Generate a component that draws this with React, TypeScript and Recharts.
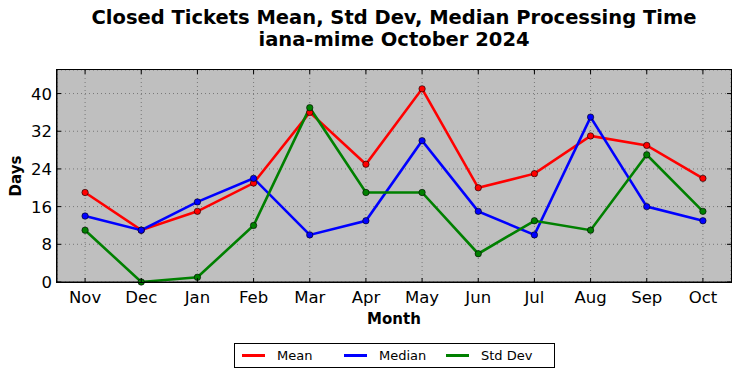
import {
  CartesianGrid,
  Line,
  LineChart,
  XAxis,
  YAxis,
} from "recharts";

const months = ["Nov", "Dec", "Jan", "Feb", "Mar", "Apr", "May", "Jun", "Jul", "Aug", "Sep", "Oct"];
const meanDays = [19, 11, 15, 21, 36, 25, 41, 20, 23, 31, 29, 22];
const medianDays = [14, 11, 17, 22, 10, 13, 30, 15, 10, 35, 16, 13];
const stdDevDays = [11, 0, 1, 12, 37, 19, 19, 6, 13, 11, 27, 15];
const yTicks = [0, 8, 16, 24, 32, 40];

const series = [
  { key: "mean", name: "Mean", color: "#ff0000" },
  { key: "median", name: "Median", color: "#0000ff" },
  { key: "std", name: "Std Dev", color: "#008000" },
];

const data = months.map((month, i) => ({
  month,
  mean: meanDays[i],
  median: medianDays[i],
  std: stdDevDays[i],
}));

const FONT = "'DejaVu Sans', sans-serif";
const PLOT_TOP = 70;
const PLOT_BOTTOM = 282;
const PLOT_LEFT = 57;
const PLOT_RIGHT = 731;
const HALF_STEP = (PLOT_RIGHT - PLOT_LEFT) / months.length / 2;

function MonthTick({ x, payload }: any) {
  return (
    <g>
      <line x1={x} x2={x} y1={PLOT_BOTTOM} y2={PLOT_BOTTOM - 4} stroke="#000" />
      <line x1={x} x2={x} y1={PLOT_TOP} y2={PLOT_TOP + 4} stroke="#000" />
      <text x={x} y={PLOT_BOTTOM + 21} textAnchor="middle" fontSize={16.5} fill="#000" fontFamily={FONT}>
        {payload.value}
      </text>
    </g>
  );
}

function DaysTick({ y, payload }: any) {
  return (
    <g>
      <line x1={PLOT_LEFT} x2={PLOT_LEFT + 4} y1={y} y2={y} stroke="#000" />
      <line x1={PLOT_RIGHT} x2={PLOT_RIGHT - 4} y1={y} y2={y} stroke="#000" />
      <text x={PLOT_LEFT - 5} y={y + 6} textAnchor="end" fontSize={16.5} fill="#000" fontFamily={FONT}>
        {payload.value}
      </text>
    </g>
  );
}

function LegendBox() {
  return (
    <div
      style={{
        position: "absolute",
        left: 234,
        top: 343,
        border: "1px solid #000",
        background: "#fff",
        width: 319,
        height: 23,
        display: "flex",
        alignItems: "center",
        fontSize: 13,
        color: "#000",
      }}
    >
      {series.map((s, i) => (
        <div key={s.key} style={{ display: "flex", alignItems: "center", marginLeft: i === 0 ? 7 : 0, width: i === 2 ? "auto" : 102 }}>
          <div style={{ width: 23, height: 3, background: s.color, marginRight: 12 }} />
          <span>{s.name}</span>
        </div>
      ))}
    </div>
  );
}

export default function App() {
  return (
    <div style={{ position: "absolute", left: 0, top: 0, width: 741, height: 378, background: "#fff", fontFamily: FONT }}>
      <div
        style={{
          position: "absolute",
          left: 0,
          width: 788,
          top: 7,
          textAlign: "center",
          fontWeight: "bold",
          fontSize: 19.5,
          lineHeight: "22px",
          color: "#000",
        }}
      >
        <div>Closed Tickets Mean, Std Dev, Median Processing Time</div>
        <div>iana-mime October 2024</div>
      </div>
      <LineChart
        width={741}
        height={378}
        data={data}
        margin={{ top: PLOT_TOP, right: 741 - PLOT_RIGHT, left: 0, bottom: 0 }}
      >
        <CartesianGrid fill="#bfbfbf" stroke="#777" strokeDasharray="1 3" />
        <XAxis
          dataKey="month"
          height={378 - PLOT_BOTTOM}
          padding={{ left: HALF_STEP, right: HALF_STEP }}
          axisLine={{ stroke: "#000" }}
          tickLine={false}
          tick={<MonthTick />}
          interval={0}
        />
        <YAxis
          domain={[0, 45]}
          ticks={yTicks}
          width={PLOT_LEFT}
          axisLine={{ stroke: "#000" }}
          tickLine={false}
          tick={<DaysTick />}
        />
        {series.map((s) => (
          <Line
            key={s.key}
            dataKey={s.key}
            name={s.name}
            stroke={s.color}
            strokeWidth={2.6}
            dot={{ r: 3.2, fill: s.color, stroke: "#000", strokeWidth: 0.6, clipDot: false }}
            activeDot={false}
            isAnimationActive={false}
          />
        ))}
      </LineChart>
      <div
        style={{
          position: "absolute",
          left: PLOT_LEFT - 1,
          top: PLOT_TOP - 1,
          width: PLOT_RIGHT - PLOT_LEFT + 2,
          height: PLOT_BOTTOM - PLOT_TOP + 2,
          border: "1.5px solid #000",
          boxSizing: "border-box",
          pointerEvents: "none",
        }}
      />
      <div style={{ position: "absolute", left: 0, width: 788, top: 310, textAlign: "center", fontWeight: "bold", fontSize: 15, color: "#000" }}>
        Month
      </div>
      <div
        style={{
          position: "absolute",
          left: 16,
          top: 176,
          transform: "translate(-50%, -50%) rotate(-90deg)",
          fontWeight: "bold",
          fontSize: 15,
          color: "#000",
          whiteSpace: "nowrap",
        }}
      >
        Days
      </div>
      <LegendBox />
    </div>
  );
}
